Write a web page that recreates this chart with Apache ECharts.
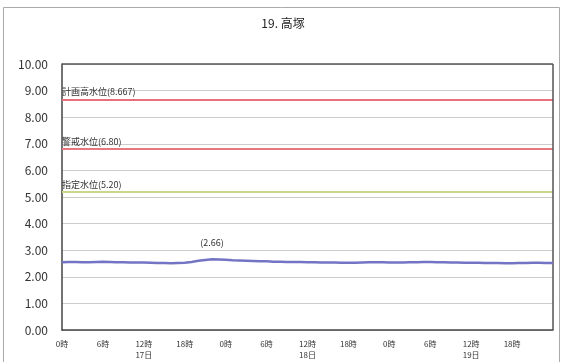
<!DOCTYPE html>
<html><head><meta charset="utf-8">
<script src="https://cdn.jsdelivr.net/npm/echarts@6/dist/echarts.min.js"></script>
<style>html,body{margin:0;padding:0;background:#fff}#c{width:566px;height:362px}</style>
</head><body><div id="c"></div>
<script>
const title = '19. 高塚';
const yTicks = [0,1,2,3,4,5,6,7,8,9,10];
const hourLabels = ['0時','6時','12時','18時','0時','6時','12時','18時','0時','6時','12時','18時'];
const dayLabels = {12:'17日', 36:'18日', 60:'19日'};
const hours = [];
for (let h = 0; h <= 72; h++) hours.push(h);
const levels = [2.55,2.56,2.56,2.55,2.55,2.56,2.57,2.56,2.55,2.55,2.54,2.54,2.54,
 2.53,2.52,2.52,2.51,2.52,2.53,2.56,2.60,2.63,2.66,2.65,2.64,
 2.62,2.61,2.60,2.59,2.58,2.58,2.57,2.57,2.56,2.56,2.56,2.55,
 2.55,2.54,2.54,2.54,2.53,2.53,2.53,2.54,2.55,2.55,2.55,2.54,
 2.54,2.54,2.55,2.55,2.56,2.56,2.55,2.55,2.54,2.54,2.53,2.53,
 2.53,2.52,2.52,2.52,2.51,2.51,2.52,2.52,2.53,2.53,2.52,2.52];
const peakIndex = 22;
const refNames = ['計画高水位(8.667)','警戒水位(6.80)','指定水位(5.20)'];
const refValues = [8.667, 6.80, 5.20];
const refColors = ['#e8707c','#e87880','#c8d888'];

const font = '"Noto Sans CJK JP", "Noto Sans", sans-serif';
const chart = echarts.init(document.getElementById('c'));
chart.setOption({
  animation:false,
  title:{text:title, left:'center', top:12, textStyle:{fontSize:12, fontWeight:'normal', color:'#222', fontFamily:font}},
  graphic:[{type:'rect', shape:{x:3.5,y:7.5,width:556,height:360}, style:{fill:null, stroke:'#aaa', lineWidth:1}, silent:true}],
  grid:{left:62, right:13, top:64, bottom:32},
  xAxis:{type:'value', min:0, max:72, interval:6,
    axisLine:{show:true, lineStyle:{color:'#444', width:1.5}},
    axisTick:{show:false},
    splitLine:{show:false},
    axisLabel:{showMaxLabel:false, fontSize:8, color:'#333', fontFamily:font, lineHeight:11,
      formatter:(v)=>{const i=Math.round(v/6); let s=hourLabels[i]||''; if(dayLabels[v]) s+='\n'+dayLabels[v]; return s;}}},
  yAxis:{type:'value', min:yTicks[0], max:yTicks[yTicks.length-1], interval:1,
    axisLine:{show:true, lineStyle:{color:'#444', width:1.5}},
    axisTick:{show:false},
    splitLine:{show:true, lineStyle:{color:'#ccc', width:1}},
    axisLabel:{formatter:(v)=>v.toFixed(2), fontSize:12, color:'#333', fontFamily:font, margin:14}},
  series:[
    {type:'line', data:hours.map((h,i)=>[h, levels[i]]), showSymbol:false, symbol:'none', lineStyle:{color:'#7474c4', width:2.5}, z:5,
      markPoint:{symbol:'circle', symbolSize:0, silent:true,
        data:[{coord:[hours[peakIndex], levels[peakIndex]], label:{show:true, position:'top', distance:12, formatter:'(' + levels[peakIndex].toFixed(2) + ')', fontSize:9, color:'#333', fontFamily:font}}]}},
    {type:'line', data:[], markLine:{symbol:'none', silent:true,
      data:refValues.map((v,i)=>({yAxis:v, lineStyle:{color:refColors[i], width:2, type:'solid'},
        label:{show:true, position:'insideStartTop', formatter:refNames[i], distance:[0,3], fontSize:9, color:'#333', fontFamily:font}}))}},
    {type:'line', data:[], markLine:{symbol:'none', silent:true, label:{show:false},
      data:[{xAxis:72, lineStyle:{color:'#555', width:1.5, type:'solid'}},{yAxis:10, lineStyle:{color:'#555', width:1.5, type:'solid'}}]}}
  ]
});
</script></body></html>
